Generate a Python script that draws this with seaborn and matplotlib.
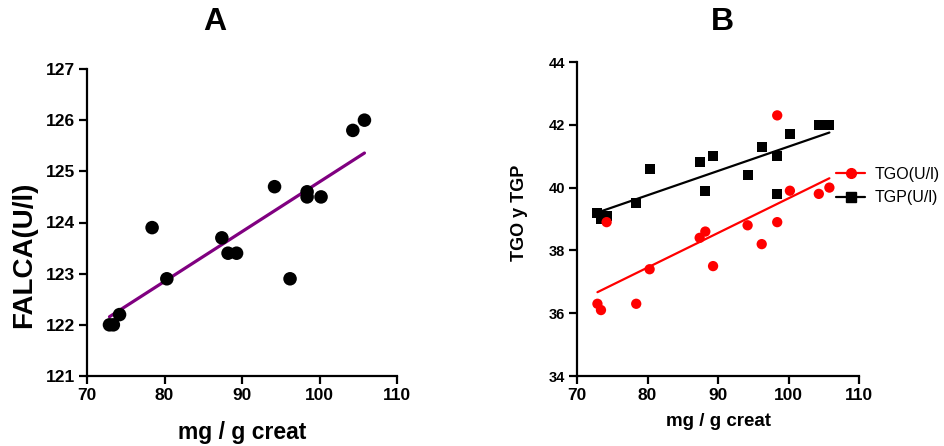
import numpy as np
import pandas as pd
import matplotlib
matplotlib.use("Agg")
import matplotlib.pyplot as plt
import seaborn as sns
from matplotlib.lines import Line2D

sns.set_style("ticks")
plt.rcParams['font.family'] = ['Liberation Sans', 'DejaVu Sans']
plt.rcParams['text.color'] = 'black'
plt.rcParams['axes.labelcolor'] = 'black'
plt.rcParams['xtick.color'] = 'black'
plt.rcParams['ytick.color'] = 'black'

# Data
x_creat = [72.9, 73.4, 74.2, 78.4, 80.3, 87.4, 88.2, 89.3, 94.2, 96.2, 98.4, 98.4, 100.2, 104.3, 105.8]
falca = [122.0, 122.0, 122.2, 123.9, 122.9, 123.7, 123.4, 123.4, 124.7, 122.9, 124.6, 124.5, 124.5, 125.8, 126.0]
tgo = [36.3, 36.1, 38.9, 36.3, 37.4, 38.4, 38.6, 37.5, 38.8, 38.2, 38.9, 42.3, 39.9, 39.8, 40.0]
tgp = [39.2, 39.0, 39.1, 39.5, 40.6, 40.8, 39.9, 41.0, 40.4, 41.3, 41.0, 39.8, 41.7, 42.0, 42.0]
xticks = [70, 80, 90, 100, 110]
yticks_a = [121, 122, 123, 124, 125, 126, 127]
yticks_b = [34, 36, 38, 40, 42, 44]

df = pd.DataFrame({"x": x_creat, "falca": falca, "tgo": tgo, "tgp": tgp})

fig = plt.figure(figsize=(9.44, 4.46), dpi=100)
axA = fig.add_axes([87/944, 70/446, 310/944, 307/446])
axB = fig.add_axes([577/944, 70/446, 282/944, 314/446])

# Panel A
sns.regplot(data=df, x="x", y="falca", ax=axA, ci=None, truncate=True,
            scatter_kws=dict(s=95, color="black", edgecolor="none", alpha=1, zorder=3),
            line_kws=dict(color="#800080", lw=2.3, zorder=2))
# Panel B
sns.regplot(data=df, x="x", y="tgp", ax=axB, ci=None, truncate=True, marker="s",
            scatter_kws=dict(s=52, color="black", edgecolor="none", alpha=1, zorder=3),
            line_kws=dict(color="black", lw=1.6, zorder=2))
sns.regplot(data=df, x="x", y="tgo", ax=axB, ci=None, truncate=True, marker="o",
            scatter_kws=dict(s=55, color="#ff0000", edgecolor="none", alpha=1, zorder=3),
            line_kws=dict(color="#ff0000", lw=1.6, zorder=2))

for ax, yt, fy in [(axA, yticks_a, 12.5), (axB, yticks_b, 10.5)]:
    sns.despine(ax=ax)
    ax.set_xlim(70, 110)
    ax.set_ylim(yt[0], yt[-1])
    ax.set_xticks(xticks)
    ax.set_yticks(yt)
    for s in ("left", "bottom"):
        ax.spines[s].set_linewidth(1.6)
        ax.spines[s].set_color("black")
    ax.tick_params(axis="both", length=5.5, width=1.6, color="black", labelcolor="black", pad=3)
    ax.tick_params(axis="x", labelsize=12.5)
    ax.tick_params(axis="y", labelsize=fy)
    for lab in ax.get_xticklabels() + ax.get_yticklabels():
        lab.set_fontweight("bold")

axA.set_xlabel("mg / g creat", fontsize=16.5, fontweight="bold", va="center")
axA.xaxis.set_label_coords(0.5, (376 - 432) / 307)
axA.set_ylabel("FALCA(U/l)", fontsize=20, fontweight="bold", va="center")
axA.yaxis.set_label_coords((24 - 87) / 310, (376 - 255) / 307)
axB.set_xlabel("mg / g creat", fontsize=13.5, fontweight="bold", va="center")
axB.xaxis.set_label_coords(0.5, (376 - 421) / 314)
axB.set_ylabel("TGO y TGP", fontsize=13, fontweight="bold", va="center")
axB.yaxis.set_label_coords((520 - 577) / 282, (376 - 213) / 314)

fig.text(215/944, 1 - 22/446, "A", fontsize=23, fontweight="heavy", ha="center", va="center")
fig.text(722/944, 1 - 22/446, "B", fontsize=23, fontweight="heavy", ha="center", va="center")

handles = [Line2D([0], [0], color="#ff0000", marker="o", markersize=7, lw=1.6),
           Line2D([0], [0], color="black", marker="s", markersize=6.5, lw=1.6)]
fig.legend(handles, ["TGO(U/l)", "TGP(U/l)"], loc="center left",
           bbox_to_anchor=(830/944, 1 - 186/446), frameon=False, fontsize=11.5,
           handlelength=1.8, handletextpad=0.6, labelspacing=0.55, borderaxespad=0)

fig.savefig("out.png", dpi=100)
